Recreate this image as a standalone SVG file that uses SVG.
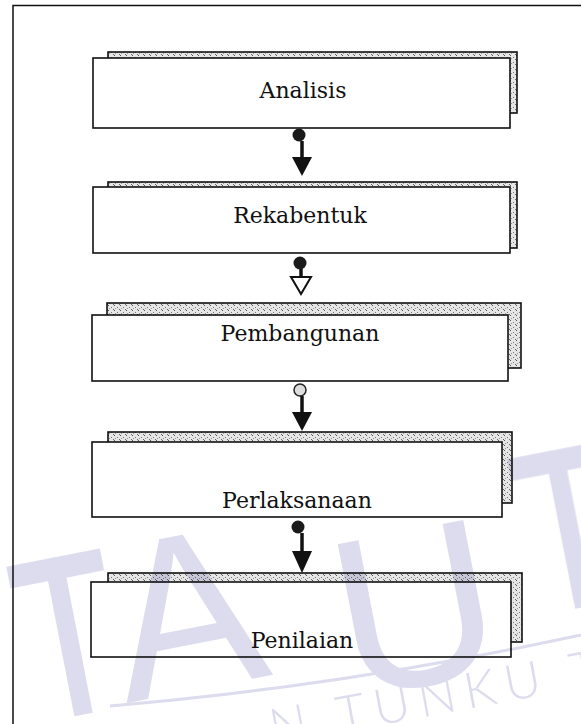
<svg xmlns="http://www.w3.org/2000/svg" width="581" height="724" viewBox="0 0 581 724">
<style>
.frame{fill:none;stroke:#111;stroke-width:1.5}
.shadow{fill:url(#stip);stroke:#111;stroke-width:1.6}
.box{fill:#fff;stroke:#111;stroke-width:1.6}
.lbl{font-family:"DejaVu Serif","Liberation Serif",serif;font-size:22px;fill:#111;text-anchor:middle}
.shaft{stroke:#111;stroke-width:3.5}
.dot{fill:#1a1a1a}
.dotl{fill:#ddd;stroke:#222;stroke-width:1.5}
.head{fill:#111}
.headh{fill:#fff;stroke:#111;stroke-width:2}
.wm{font-family:"Liberation Sans",Arial,sans-serif;font-size:225px;fill:#dcdcee}
.wmt{font-family:"Liberation Sans",Arial,sans-serif;font-size:225px;fill:#dcdcee;stroke:#dcdcee;stroke-width:5}
.wm2{font-family:Lato,"Liberation Sans",sans-serif;font-weight:300;font-size:50px;fill:#dcdcee;letter-spacing:9px}
</style>
<defs>
<pattern id="stip" width="6" height="5" patternUnits="userSpaceOnUse">
<rect width="6" height="5" fill="#e6e6e6"/>
<rect x="0" y="0" width="1" height="1" fill="#555"/>
<rect x="3" y="2" width="1" height="1" fill="#777"/>
<rect x="5" y="4" width="1" height="1" fill="#666"/>
<rect x="1" y="3" width="1" height="1" fill="#999"/>
</pattern>
</defs>
<rect width="581" height="724" fill="#fff"/>
<path class="frame" d="M13,724 L13,5.5 L581,5.5"/>

<g id="analisis">
<rect class="shadow" x="108" y="52" width="409" height="61"/>
<rect class="box" x="93" y="58" width="417" height="70"/>
<text class="lbl" x="303" y="98">Analisis</text>
</g>
<g id="rekabentuk">
<rect class="shadow" x="108" y="182" width="409" height="66"/>
<rect class="box" x="93" y="187" width="417" height="66"/>
<text class="lbl" x="300" y="223">Rekabentuk</text>
</g>
<g id="pembangunan">
<rect class="shadow" x="107" y="303" width="414" height="65"/>
<rect class="box" x="92" y="315" width="416" height="66"/>
<text class="lbl" x="300" y="341">Pembangunan</text>
</g>
<g id="perlaksanaan">
<rect class="shadow" x="108" y="432" width="404" height="71"/>
<rect class="box" x="92" y="442" width="410" height="75"/>
<text class="lbl" x="297" y="508">Perlaksanaan</text>
</g>
<g id="penilaian">
<rect class="shadow" x="108" y="573" width="414" height="69"/>
<rect class="box" x="91" y="582" width="420" height="75"/>
<text class="lbl" x="302" y="648">Penilaian</text>
</g>

<g id="connectors">
<circle class="dot" cx="299" cy="135" r="6.5"/>
<line class="shaft" x1="302" y1="141" x2="302" y2="158"/>
<polygon class="head" points="292,157 312,157 302,176"/>

<circle class="dot" cx="300" cy="263" r="6.5"/>
<line class="shaft" x1="301" y1="269" x2="301" y2="290"/>
<polygon class="headh" points="291,277 311,277 301,294"/>

<circle class="dotl" cx="300" cy="390" r="6"/>
<line class="shaft" x1="302" y1="396" x2="302" y2="413"/>
<polygon class="head" points="292,412 312,412 302,431"/>

<circle class="dot" cx="298" cy="527" r="6.5"/>
<line class="shaft" x1="302" y1="533" x2="302" y2="552"/>
<polygon class="head" points="292,551 312,551 302,573"/>
</g>

<g id="watermark" style="mix-blend-mode:multiply">
<text class="wmt" text-anchor="middle" transform="translate(83,712) rotate(-11) scale(0.72,1)">T</text>
<text class="wm" text-anchor="middle" transform="translate(200,689) rotate(-11)">A</text>
<text class="wm" text-anchor="middle" transform="translate(430,684) rotate(-11)">U</text>
<text class="wmt" text-anchor="middle" transform="translate(584,605) rotate(-11) scale(0.72,1)">T</text>
<text class="wm2" transform="translate(273,745) rotate(-10.5)">N TUNKU T</text>
<path d="M110,706 Q345,686 581,635" fill="none" stroke="#dcdcee" stroke-width="3"/>
</g>
</svg>
